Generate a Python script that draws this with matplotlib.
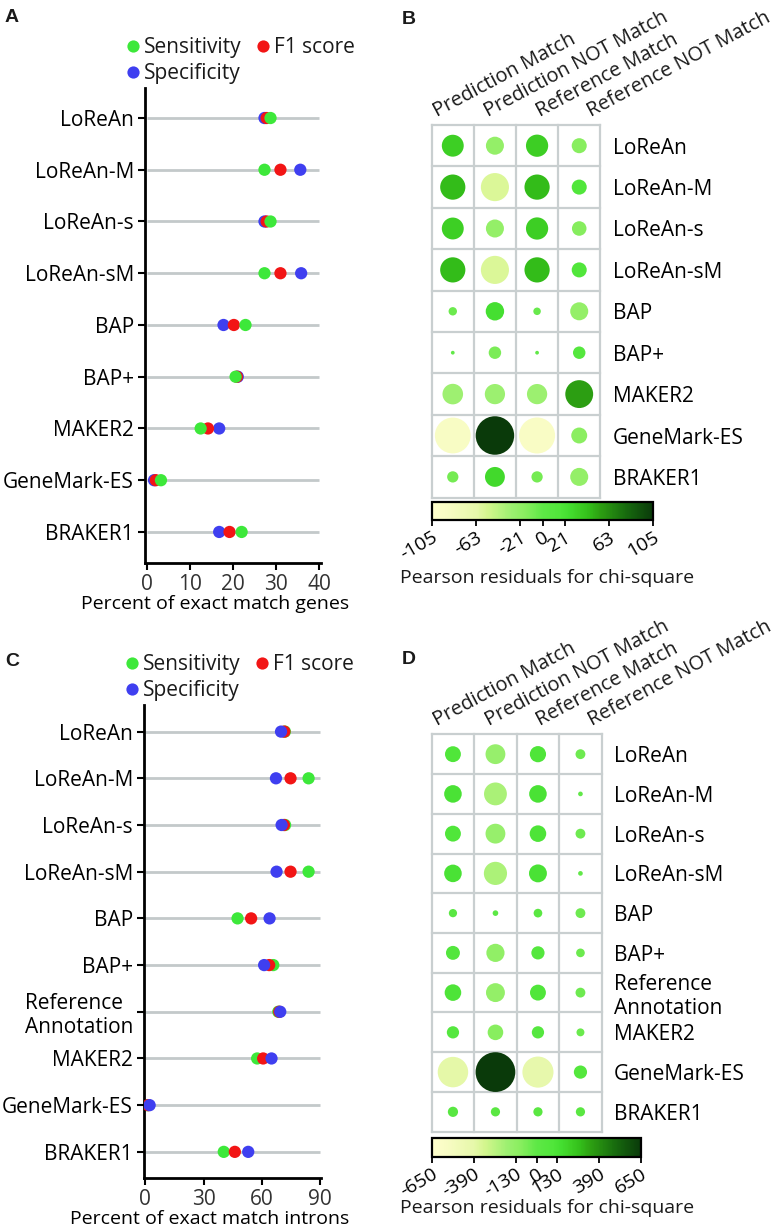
import numpy as np
import matplotlib
matplotlib.use("Agg")
import matplotlib.pyplot as plt
from matplotlib.colors import LinearSegmentedColormap, Normalize
from matplotlib.collections import EllipseCollection
from matplotlib.cm import ScalarMappable
from matplotlib.lines import Line2D

plt.rcParams["font.family"] = ["Open Sans", "DejaVu Sans"]
plt.rcParams["text.color"] = "#1a1a1a"

# panel A: exact match genes
gene_tools = ["LoReAn", "LoReAn-M", "LoReAn-s", "LoReAn-sM", "BAP", "BAP+",
              "MAKER2", "GeneMark-ES", "BRAKER1"]
gene_sens = [28.7, 27.3, 28.7, 27.3, 22.9, 20.6, 12.5, 3.3, 22.0]
gene_f1 = [27.8, 31.0, 27.8, 31.0, 20.2, 20.9, 14.2, 2.1, 19.2]
gene_spec = [27.3, 35.6, 27.3, 35.8, 17.8, 21.1, 16.8, 1.7, 16.8]
gene_xticks = [0, 10, 20, 30, 40]

# panel C: exact match introns
intron_tools = ["LoReAn", "LoReAn-M", "LoReAn-s", "LoReAn-sM", "BAP", "BAP+",
                "Reference\nAnnotation", "MAKER2", "GeneMark-ES", "BRAKER1"]
intron_sens = [71.9, 84.1, 72.0, 84.1, 47.5, 65.9, 68.5, 57.6, 1.0, 40.4]
intron_f1 = [71.6, 74.8, 71.4, 74.8, 54.5, 63.8, 69.0, 60.7, 1.4, 46.1]
intron_spec = [69.9, 67.3, 70.2, 67.6, 64.0, 61.2, 69.5, 65.0, 2.2, 53.0]
intron_xticks = [0, 30, 60, 90]

# panels B and D: Pearson residuals
match_cols = ["Prediction Match", "Prediction NOT Match", "Reference Match",
              "Reference NOT Match"]
gene_resid = [
    [34, -23, 35, -16],
    [45, -56, 45, 16],
    [34, -23, 35, -15],
    [45, -56, 45, 16],
    [-5, 24, -4, -23],
    [-1, -11, -1, 11],
    [-30, -29, -29, 55],
    [-91, 105, -92, -18],
    [-9, 28, -9, -23],
]
gene_cbar_ticks = [-105, -63, -21, 0, 21, 63, 105]

intron_resid = [
    [104, -162, 108, -40],
    [127, -215, 127, -9],
    [104, -162, 113, -40],
    [127, -221, 132, -9],
    [28, 13, 31, -40],
    [80, -136, 72, -31],
    [113, -147, 104, -40],
    [62, -100, 62, -26],
    [-382, 650, -398, 72],
    [43, 35, 35, 35],
]
intron_cbar_ticks = [-650, -390, -130, 0, 130, 390, 650]

GREEN, RED, BLUE = "#3de83a", "#f21515", "#3f3ff0"
FS = 15

cmap = LinearSegmentedColormap.from_list("resid", [
    (0.0, "#ffffcc"), (0.07, "#f8fcc4"), (0.2, "#e6f8aa"), (0.25, "#d4f68e"),
    (0.36, "#9cf070"), (0.42, "#8aee60"), (0.5, "#5ee846"), (0.58, "#50e63a"),
    (0.62, "#44de30"), (0.66, "#3ed025"), (0.71, "#33be1a"), (0.76, "#2da012"),
    (0.88, "#176a0e"), (1.0, "#0a3a0a")])

W, H = 780, 1228
fig = plt.figure(figsize=(W / 100, H / 100), dpi=100)


def px_axes(x0, y0, x1, y1):
    return fig.add_axes([x0 / W, 1 - y1 / H, (x1 - x0) / W, (y1 - y0) / H])


def dot_panel(ax, tools, sens, f1, spec, xticks, xlim, ylim, xlabel, lab_x, order):
    n = len(tools)
    y = np.arange(n)
    ax.hlines(y, xticks[0], xticks[-1], color="#c3c9ca", lw=2, zorder=1)
    series = {"sens": (sens, GREEN), "f1": (f1, RED), "spec": (spec, BLUE)}
    for z, key in enumerate(order):
        vals, col = series[key]
        ax.scatter(vals, y, s=78, color=col, edgecolors="none", zorder=2 + z)
    ax.set_xlim(*xlim)
    ax.set_ylim(*ylim)
    ax.set_yticks(y)
    ax.set_yticklabels(tools, fontsize=FS)
    for t in ax.get_yticklabels():
        t.set_multialignment("left")
    ax.set_xticks(xticks)
    ax.set_xticklabels([str(v) for v in xticks], fontsize=FS, color="#333333")
    ax.tick_params(length=5, width=1.5, color="black", pad=3)
    for s in ["top", "right"]:
        ax.spines[s].set_visible(False)
    for s in ["left", "bottom"]:
        ax.spines[s].set_linewidth(2)
    ax.set_xlabel(xlabel, fontsize=FS - 1, labelpad=0)
    ax.xaxis.label.set_x(lab_x)
    handles = [Line2D([], [], ls="", marker="o", ms=8.8, mfc=GREEN, mec="none"),
               Line2D([], [], ls="", marker="o", ms=8.8, mfc=BLUE, mec="none"),
               Line2D([], [], ls="", marker="o", ms=8.8, mfc=RED, mec="none")]
    ax.legend(handles, ["Sensitivity", "Specificity", "F1 score"], ncol=2,
              loc="lower left", bbox_to_anchor=(-0.104, 1.008), frameon=False,
              fontsize=FS, handlelength=0.6, handletextpad=0.25,
              columnspacing=0.7, labelspacing=0.24, borderpad=0,
              borderaxespad=0)


def bubble_panel(ax, cax, resid, rows, vmax, k, ticks, lab_drop):
    n = len(rows)
    vals = np.array(resid, dtype=float)
    cc, rr = np.meshgrid(np.arange(4), np.arange(n))
    offs = np.column_stack([cc.ravel(), (n - 1 - rr).ravel()])
    norm = Normalize(-vmax, vmax)
    d = k * np.sqrt(np.abs(vals.ravel()) / vmax)
    ec = EllipseCollection(d, d, np.zeros_like(d), units="y", offsets=offs,
                           offset_transform=ax.transData,
                           facecolors=cmap(norm(vals.ravel())), edgecolors="none",
                           zorder=3)
    ax.add_collection(ec)
    ax.set_xlim(-0.5, 3.5)
    ax.set_ylim(-0.5, n - 0.5)
    for i in range(5):
        ax.axvline(i - 0.5, color="#c9cfd0", lw=1.6, clip_on=False, zorder=1)
    for j in range(n + 1):
        ax.axhline(j - 0.5, color="#c9cfd0", lw=1.6, clip_on=False, zorder=1)
    for s in ax.spines.values():
        s.set_visible(False)
    ax.set_xticks([])
    ax.yaxis.tick_right()
    ax.set_yticks(np.arange(n))
    ax.set_yticklabels(rows[::-1], fontsize=FS)
    for t in ax.get_yticklabels():
        t.set_multialignment("left")
    ax.tick_params(axis="y", length=0, pad=9)
    for i, name in enumerate(match_cols):
        ax.annotate(name, xy=(-0.38 + 1.22 * i, n - 0.5), xycoords="data",
                    xytext=(0, 6), textcoords="offset points", rotation=28,
                    rotation_mode="anchor", ha="left", va="baseline",
                    fontsize=FS - 0.6, annotation_clip=False)
    sm = ScalarMappable(norm=norm, cmap=cmap)
    cb = fig.colorbar(sm, cax=cax, orientation="horizontal", ticks=ticks)
    cb.outline.set_linewidth(1.6)
    cb.outline.set_edgecolor("black")
    cax.tick_params(length=4, width=1.3, pad=2)
    cax.set_xticklabels([str(t) for t in ticks], rotation=30, ha="right",
                        rotation_mode="anchor", fontsize=FS - 1)
    cax.annotate("Pearson residuals for chi-square", xy=(0, 0),
                 xycoords="axes fraction", xytext=(-32 * 0.72, -lab_drop * 0.72),
                 textcoords="offset points", fontsize=FS - 1, ha="left",
                 va="center")


axA = px_axes(145, 88, 321, 563)
dot_panel(axA, gene_tools, gene_sens, gene_f1, gene_spec, gene_xticks,
          (-0.4, 40.4), (8.6, -0.58), "Percent of exact match genes", 0.40,
          ["spec", "f1", "sens"])

axC = px_axes(144, 705, 321, 1178)
dot_panel(axC, intron_tools, intron_sens, intron_f1, intron_spec, intron_xticks,
          (-0.7, 90.5), (9.56, -0.57), "Percent of exact match introns", 0.37,
          ["sens", "f1", "spec"])

axB = px_axes(431.7, 125, 600.3, 497.6)
caxB = px_axes(432, 502, 653, 520)
bubble_panel(axB, caxB, gene_resid, gene_tools, 105, 0.93, gene_cbar_ticks, 58)

axD = px_axes(431.7, 734.3, 601.7, 1131.7)
caxD = px_axes(432, 1138, 641, 1157)
bubble_panel(axD, caxD, intron_resid, intron_tools, 650, 1.0, intron_cbar_ticks, 51)

for lab, x, y in [("A", 12, 18), ("B", 409, 20), ("C", 12, 662), ("D", 409, 660)]:
    fig.text(x / W, 1 - y / H, lab, fontsize=14, fontweight="bold",
             family="Liberation Sans", ha="center", va="center")

fig.savefig("out.png", dpi=100)
